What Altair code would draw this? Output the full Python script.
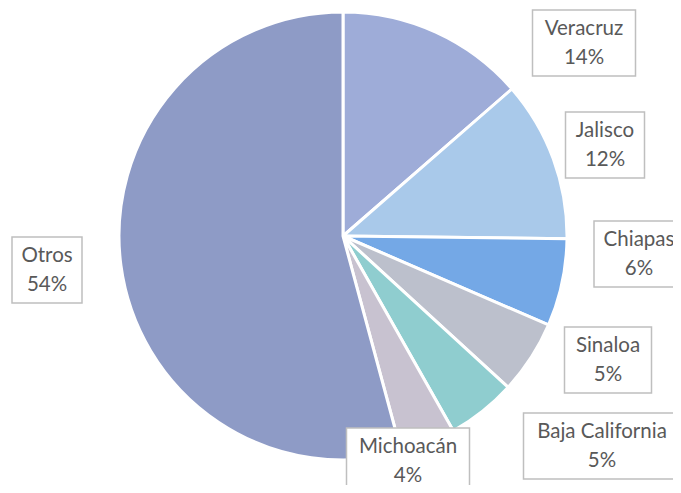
import altair as alt
import pandas as pd

# ---- data ----
states = ["Veracruz", "Jalisco", "Chiapas", "Sinaloa", "Baja California", "Michoacán", "Otros"]
shares = [13.6, 11.6, 6.3, 5.3, 5.0, 4.0, 54.2]
colors = ["#9eacd8", "#a9c9ea", "#74a8e6", "#bcc0cc", "#8fcdcf", "#c8c2d0", "#8e9bc6"]

# ---- label layout (page pixels) ----
label_cx = [584, 605, 639, 608, 602, 408, 47]
label_cy = [43, 145, 254, 360, 446, 461, 270]
box_w = [103, 79, 90, 87, 157, 123, 70]
BOX_H = 66
OFF = 8
CX, CY, R = 343, 236, 224
W, H = 665, 477

df = pd.DataFrame({
    "state": states,
    "share": shares,
    "idx": list(range(len(states))),
})
df["label"] = [f"{s}\n{round(v)}%" for s, v in zip(states, shares)]
df["lx"] = [x - OFF for x in label_cx]
df["ly"] = [y - OFF for y in label_cy]
df["bx1"] = [x - OFF - w / 2 for x, w in zip(label_cx, box_w)]
df["bx2"] = [x - OFF + w / 2 for x, w in zip(label_cx, box_w)]
df["by1"] = [y - OFF - BOX_H / 2 for y in label_cy]
df["by2"] = [y - OFF + BOX_H / 2 for y in label_cy]

base = alt.Chart(df)

pie = base.mark_arc(outerRadius=R, stroke="white", strokeWidth=3).encode(
    theta=alt.Theta("share:Q", stack=True),
    order=alt.Order("idx:Q"),
    color=alt.Color("state:N", scale=alt.Scale(domain=states, range=colors), legend=None),
    x=alt.value(CX - OFF),
    y=alt.value(CY - OFF),
)

boxes = base.mark_rect(fill="white", stroke="#bfbfbf", strokeWidth=1.5).encode(
    x=alt.X("bx1:Q", scale=None, axis=None),
    x2="bx2",
    y=alt.Y("by1:Q", scale=None, axis=None),
    y2="by2",
)

texts = base.mark_text(
    lineBreak="\n", font="Lato", fontSize=20.5, color="#595959",
    lineHeight=29, baseline="middle", align="center", dy=-14,
).encode(
    x=alt.X("lx:Q", scale=None, axis=None),
    y=alt.Y("ly:Q", scale=None, axis=None),
    text="label:N",
)

chart = alt.layer(pie, boxes, texts).properties(
    width=W, height=H, padding=0, autosize="none",
).configure_view(stroke=None)

chart.save("out.html", embed_options={"renderer": "svg", "actions": False})
